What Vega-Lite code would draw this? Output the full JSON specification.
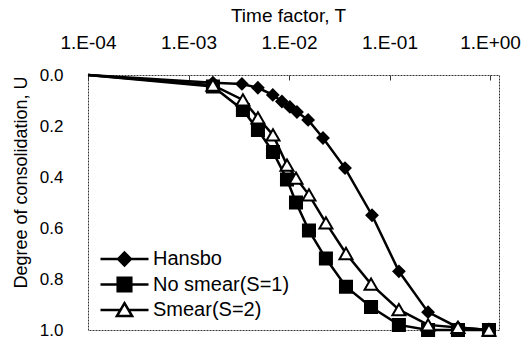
{
  "$schema": "https://vega.github.io/schema/vega-lite/v6.json",
  "width": 411,
  "height": 255,
  "autosize": {"type": "none"},
  "padding": {"left": 88, "top": 75, "right": 31, "bottom": 15},
  "background": "white",
  "config": {
    "font": "Liberation Sans",
    "view": {"stroke": "#333333", "strokeWidth": 1, "strokeDash": [2, 1]}
  },
  "data": {
    "values": [
      {"series": "Hansbo", "T": 0.0001, "U": 0.0},
      {"series": "Hansbo", "T": 0.00175, "U": 0.03},
      {"series": "Hansbo", "T": 0.0034, "U": 0.035},
      {"series": "Hansbo", "T": 0.0049, "U": 0.05},
      {"series": "Hansbo", "T": 0.0069, "U": 0.078},
      {"series": "Hansbo", "T": 0.0085, "U": 0.104},
      {"series": "Hansbo", "T": 0.0102, "U": 0.125},
      {"series": "Hansbo", "T": 0.012, "U": 0.145},
      {"series": "Hansbo", "T": 0.0155, "U": 0.176},
      {"series": "Hansbo", "T": 0.0218, "U": 0.247},
      {"series": "Hansbo", "T": 0.0361, "U": 0.365},
      {"series": "Hansbo", "T": 0.067, "U": 0.55},
      {"series": "Hansbo", "T": 0.124, "U": 0.77},
      {"series": "Hansbo", "T": 0.242, "U": 0.93},
      {"series": "Hansbo", "T": 0.48, "U": 0.99},
      {"series": "Hansbo", "T": 0.977, "U": 1.0},
      {"series": "No smear(S=1)", "T": 0.0001, "U": 0.0},
      {"series": "No smear(S=1)", "T": 0.00175, "U": 0.045},
      {"series": "No smear(S=1)", "T": 0.00348, "U": 0.137},
      {"series": "No smear(S=1)", "T": 0.00491, "U": 0.216},
      {"series": "No smear(S=1)", "T": 0.00693, "U": 0.302},
      {"series": "No smear(S=1)", "T": 0.00955, "U": 0.41},
      {"series": "No smear(S=1)", "T": 0.01174, "U": 0.5},
      {"series": "No smear(S=1)", "T": 0.0158, "U": 0.61},
      {"series": "No smear(S=1)", "T": 0.0233, "U": 0.72},
      {"series": "No smear(S=1)", "T": 0.0369, "U": 0.83},
      {"series": "No smear(S=1)", "T": 0.0655, "U": 0.91},
      {"series": "No smear(S=1)", "T": 0.124, "U": 0.98},
      {"series": "No smear(S=1)", "T": 0.242, "U": 1.0},
      {"series": "No smear(S=1)", "T": 0.48, "U": 1.0},
      {"series": "No smear(S=1)", "T": 0.977, "U": 1.0},
      {"series": "Smear(S=2)", "T": 0.0001, "U": 0.0},
      {"series": "Smear(S=2)", "T": 0.00175, "U": 0.04},
      {"series": "Smear(S=2)", "T": 0.00348, "U": 0.098},
      {"series": "Smear(S=2)", "T": 0.00491, "U": 0.168},
      {"series": "Smear(S=2)", "T": 0.00693, "U": 0.235},
      {"series": "Smear(S=2)", "T": 0.00955, "U": 0.353},
      {"series": "Smear(S=2)", "T": 0.01174, "U": 0.404},
      {"series": "Smear(S=2)", "T": 0.0158, "U": 0.47},
      {"series": "Smear(S=2)", "T": 0.0233, "U": 0.58},
      {"series": "Smear(S=2)", "T": 0.0369, "U": 0.7},
      {"series": "Smear(S=2)", "T": 0.0655, "U": 0.82},
      {"series": "Smear(S=2)", "T": 0.124, "U": 0.92},
      {"series": "Smear(S=2)", "T": 0.242, "U": 0.98},
      {"series": "Smear(S=2)", "T": 0.48, "U": 0.99},
      {"series": "Smear(S=2)", "T": 0.977, "U": 1.0}
    ]
  },
  "encoding": {
    "x": {
      "field": "T",
      "type": "quantitative",
      "scale": {"type": "log", "domain": [0.0001, 1.229], "nice": false},
      "axis": {
        "orient": "top",
        "title": "Time factor, T",
        "titleFont": "Liberation Sans",
        "titleFontSize": 19,
        "titleFontWeight": "normal",
        "titleColor": "black",
        "titlePadding": 8,
        "titleX": 200,
        "values": [0.0001, 0.001, 0.01, 0.1, 1],
        "labelExpr": "datum.value < 0.0005 ? '1.E-04' : datum.value < 0.005 ? '1.E-03' : datum.value < 0.05 ? '1.E-02' : datum.value < 0.5 ? '1.E-01' : '1.E+00'",
        "labelFontSize": 19,
        "labelColor": "black",
        "labelPadding": 28,
        "labelFlush": false,
        "labelOverlap": false,
        "ticks": true,
        "tickSize": -5,
        "tickColor": "#333333",
        "domain": false,
        "grid": false
      }
    },
    "y": {
      "field": "U",
      "type": "quantitative",
      "scale": {"domain": [0, 1], "reverse": true, "nice": false},
      "axis": {
        "title": "Degree of consolidation, U",
        "titleFont": "Liberation Sans",
        "titleFontSize": 18,
        "titleFontWeight": "normal",
        "titleColor": "black",
        "titlePadding": 9,
        "titleY": 107,
        "values": [0, 0.2, 0.4, 0.6, 0.8, 1.0],
        "format": ".1f",
        "labelFontSize": 17,
        "labelColor": "black",
        "labelPadding": 25,
        "labelFlush": false,
        "ticks": false,
        "domain": false,
        "grid": false
      }
    }
  },
  "layer": [
    {
      "mark": {"type": "line", "color": "black", "strokeWidth": 2.5},
      "encoding": {"detail": {"field": "series", "type": "nominal"}}
    },
    {
      "transform": [{"filter": "datum.T > 0.0002"}],
      "mark": {"type": "point", "filled": true, "opacity": 1, "stroke": "black", "strokeWidth": 2},
      "encoding": {
        "fill": {
          "field": "series",
          "type": "nominal",
          "scale": {"domain": ["Hansbo", "No smear(S=1)", "Smear(S=2)"], "range": ["black", "black", "white"]},
          "legend": null
        },
        "shape": {
          "field": "series",
          "type": "nominal",
          "scale": {"domain": ["Hansbo", "No smear(S=1)", "Smear(S=2)"], "range": ["diamond", "square", "triangle-up"]},
          "legend": null
        },
        "size": {
          "field": "series",
          "type": "nominal",
          "scale": {"domain": ["Hansbo", "No smear(S=1)", "Smear(S=2)"], "range": [121, 169, 200]},
          "legend": null
        }
      }
    },
    {
      "transform": [{"filter": "datum.T > 100"}],
      "mark": {"type": "point", "filled": true, "opacity": 0, "strokeWidth": 2.5},
      "encoding": {
        "shape": {
          "field": "series",
          "type": "nominal",
          "scale": {"domain": ["Hansbo", "No smear(S=1)", "Smear(S=2)"], "range": ["M-3,0H3M0,-0.8L0.8,0L0,0.8L-0.8,0Z", "M-3,0H3M-0.85,-0.85H0.85V0.85H-0.85Z", "M-3,0H-0.5M0.5,0H3M0,-0.85L0.95,0.75L-0.95,0.75Z"]},
          "legend": {
            "title": null,
            "orient": "none",
            "legendX": 26.5,
            "legendY": 174,
            "symbolSize": 256,
            "symbolOpacity": 1,
            "symbolStrokeWidth": 2.5,
            "labelFont": "Liberation Sans",
            "labelFontSize": 20,
            "labelColor": "black",
            "labelOffset": 18.5,
            "labelLimit": 300,
            "rowPadding": 1.5
          }
        },
        "fill": {
          "field": "series",
          "type": "nominal",
          "scale": {"domain": ["Hansbo", "No smear(S=1)", "Smear(S=2)"], "range": ["black", "black", "white"]}
        },
        "stroke": {
          "field": "series",
          "type": "nominal",
          "scale": {"domain": ["Hansbo", "No smear(S=1)", "Smear(S=2)"], "range": ["black", "black", "black"]}
        }
      }
    }
  ],
  "resolve": {
    "scale": {"shape": "independent", "fill": "independent", "size": "independent", "stroke": "independent"},
    "legend": {"shape": "independent", "fill": "independent", "stroke": "independent"}
  }
}
